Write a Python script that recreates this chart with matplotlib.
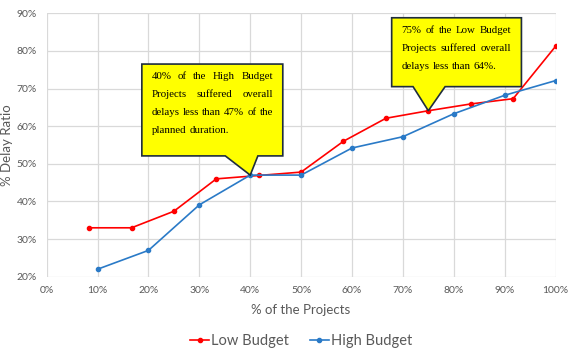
import matplotlib.pyplot as plt
from matplotlib.patches import Polygon
from matplotlib.transforms import IdentityTransform
from matplotlib.ticker import PercentFormatter

# data
low_x = [8.33, 16.67, 25.0, 33.33, 41.67, 50.0, 58.33, 66.67, 75.0, 83.33, 91.67, 100.0]
low_y = [33.0, 33.0, 37.4, 46.0, 46.9, 47.8, 56.0, 62.1, 64.1, 65.9, 67.3, 81.2]
high_x = [10, 20, 30, 40, 50, 60, 70, 80, 90, 100]
high_y = [22.0, 27.0, 39.1, 47.0, 47.0, 54.2, 57.2, 63.3, 68.2, 72.1]

note_high = ["40% of the High Budget", "Projects suffered overall",
             "delays less than 47% of the", "planned duration."]
note_low = ["75% of the Low Budget", "Projects suffered overall",
            "delays less than 64%."]

grey = '#595959'
plt.rcParams['font.family'] = ['Lato', 'DejaVu Sans']

fig = plt.figure(figsize=(5.73, 3.58), dpi=100)
ax = fig.add_axes([0.0815, 0.227, 0.888, 0.736])
ax.set_xlim(0, 100)
ax.set_ylim(20, 90)
ax.set_xticks(range(0, 101, 10))
ax.set_yticks(range(20, 91, 10))
ax.xaxis.set_major_formatter(PercentFormatter(decimals=0))
ax.yaxis.set_major_formatter(PercentFormatter(decimals=0))
ax.grid(True, color='#d9d9d9', lw=0.9)
ax.set_axisbelow(True)
for s in ax.spines.values():
    s.set_visible(False)
ax.tick_params(length=0, labelsize=7.5, colors=grey, pad=7)

ax.plot(low_x, low_y, color='#ff0000', lw=1.2, marker='o', ms=3, label='Low Budget', zorder=3)
ax.plot(high_x, high_y, color='#2a7ac7', lw=1.2, marker='o', ms=3, label='High Budget', zorder=3)

ax.set_xlabel('% of the Projects', fontsize=9.5, color=grey, labelpad=6)
ax.set_ylabel('% Delay Ratio', fontsize=9.5, color=grey, labelpad=3)
ax.legend(loc='center', bbox_to_anchor=(0.5, -0.245), ncol=2, frameon=False,
          fontsize=10.5, labelcolor=grey, handlelength=1.3, columnspacing=1.4,
          handletextpad=0.15)


def callout(x0, x1, y0, y1, bx0, bx1, tip, lines):
    # box with a pointer, in data coordinates
    pts = [(x0, y1), (x1, y1), (x1, y0), (bx1, y0), tip, (bx0, y0), (x0, y0)]
    ax.add_patch(Polygon(pts, closed=True, facecolor='#ffff00', edgecolor='#1f2d3d',
                         lw=1.2, zorder=5))
    # justified text, placed word by word in pixels
    rend = fig.canvas.get_renderer()
    left, top = ax.transData.transform((x0, y1))
    right, _ = ax.transData.transform((x1, y1))
    left += 10
    right -= 10
    for i, line in enumerate(lines):
        words = line.split()
        ypix = top - 12.5 - i * 18
        widths = []
        for w in words:
            t = fig.text(0, 0, w, family='Liberation Serif', fontsize=7.8)
            widths.append(t.get_window_extent(rend).width)
            t.remove()
        if i < len(lines) - 1 and len(words) > 1:
            gap = (right - left - sum(widths)) / (len(words) - 1)
        else:
            gap = 2.7
        xpix = left
        for w, wd in zip(words, widths):
            fig.text(xpix, ypix, w, family='Liberation Serif', fontsize=7.8,
                     transform=IdentityTransform(), va='center', zorder=6)
            xpix += wd + gap


callout(18.7, 46.4, 52.1, 76.5, 35.1, 41.5, (40, 47), note_high)
callout(67.8, 93.3, 70.5, 88.8, 72.0, 78.3, (75, 64.1), note_low)

fig.savefig('out.png', dpi=100)
